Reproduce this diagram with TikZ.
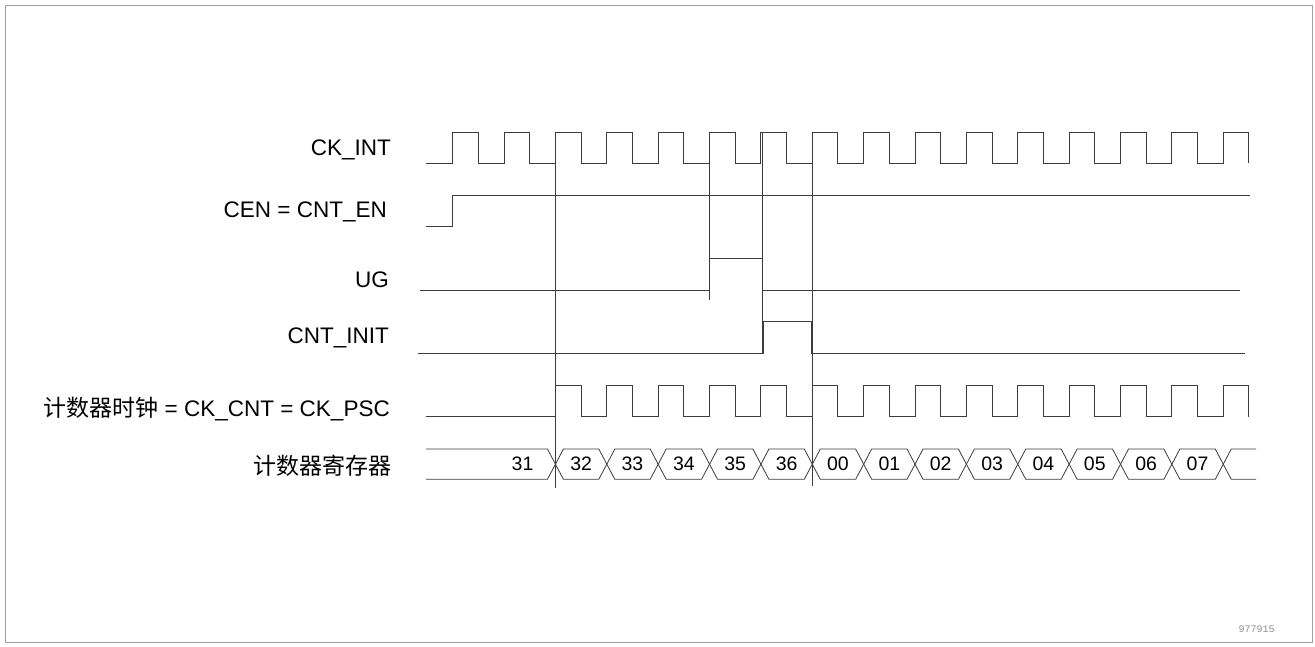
\documentclass[tikz,border=0pt]{standalone}
\usepackage{fontspec}
\setmainfont{Liberation Sans}
\newfontfamily\cjk{Noto Sans CJK SC}
\newfontfamily\codefont{Liberation Mono}
\definecolor{wave}{HTML}{3C3C3C}
\definecolor{framegray}{HTML}{A0A0A0}
\tikzset{
  sig/.style={wave,line width=1pt},
  lbl/.style={anchor=east,inner sep=0pt,font=\fontsize{22.5}{26}\selectfont},
  val/.style={inner sep=0pt,font=\fontsize{19.5}{22}\selectfont},
}
\begin{document}
\begin{tikzpicture}[x=1pt,y=-1pt]
    \useasboundingbox (0,0) rectangle (1315,646);
    \pgfmathsetmacro\per{51.37}
    \pgfmathsetmacro\rz{452.7}
    \draw[framegray,line width=1.5pt] (5.5,5.5) rectangle (1312.5,642.5);

    \node[lbl] (lck)   at (391,150) {CK\_INT};
    \node[lbl] (lcen)  at (387,212) {CEN = CNT\_EN};
    \node[lbl] (lug)   at (389,280) {UG};
    \node[lbl] (linit) at (389,338) {CNT\_INIT};
    \node[lbl] (lcnt)  at (390,409) {{\cjk\fontsize{23}{26}\selectfont 计数器时钟} = CK\_CNT = CK\_PSC};
    \node[lbl] (lreg)  at (392,466) {\cjk\fontsize{23}{26}\selectfont 计数器寄存器};

    % clocks
    \draw[sig] (426,163) \foreach \k in {0,...,15}{
        -- ({\rz+\k*\per},163) -- ({\rz+\k*\per},132)
        -- ({\rz+\k*\per+\per/2},132) -- ({\rz+\k*\per+\per/2},163)};
    \draw[sig] (426,416.7) \foreach \k in {2,...,15}{
        -- ({\rz+\k*\per},416.7) -- ({\rz+\k*\per},385.7)
        -- ({\rz+\k*\per+\per/2},385.7) -- ({\rz+\k*\per+\per/2},416.7)};

    \draw[sig] (426,226.7) -- (\rz,226.7) -- (\rz,195.3) -- (1250,195.3);
    \draw[sig] (420,290) -- (709.5,290) -- (709.5,258.3) -- (762.3,258.3) -- (762.3,290) -- (1240,290);
    \draw[sig] (418,353.3) -- (763,353.3) -- (763,321.7) -- (811.7,321.7) -- (811.7,353.3) -- (1245,353.3);

    % guide lines
    \draw[sig,line width=0.8pt] ({\rz+2*\per},132) -- ({\rz+2*\per},488);
    \draw[sig,line width=0.8pt] (709.5,132) -- (709.5,300);
    \draw[sig,line width=0.8pt] (762.3,132) -- (762.3,353.3);
    \draw[sig,line width=0.8pt] (812.3,132) -- (812.3,486);

    % counter register
    \pgfmathsetmacro\ta{\rz+2*\per}
    \draw[sig,line width=0.8pt] (426,449) -- (\ta-8,449) -- (\ta,464.2) -- (\ta-8,479.3) -- (426,479.3);
    \node[val] (v1) at (522.5,464.2) {31};
    \foreach \v [count=\i from 2] in {32,33,34,35,36,00,01,02,03,04,05,06,07}{
        \pgfmathsetmacro\ta{\rz+\i*\per}
        \pgfmathsetmacro\tb{\ta+\per}
        \draw[sig,line width=0.8pt] (\ta,464.2) -- (\ta+8,449) -- (\tb-8,449) -- (\tb,464.2)
            -- (\tb-8,479.3) -- (\ta+8,479.3) -- cycle;
        \node[val] (v\i) at ({(\ta+\tb)/2},464.2) {\v};
    }
    \pgfmathsetmacro\ta{\rz+15*\per}
    \draw[sig,line width=0.8pt] (1256,449) -- (\ta+8,449) -- (\ta,464.2) -- (\ta+8,479.3) -- (1256,479.3);

    \node[text=framegray!90!black,font=\codefont\fontsize{10}{12}\selectfont] (fig) at (1256.5,629) {977915};
\end{tikzpicture}
\end{document}
